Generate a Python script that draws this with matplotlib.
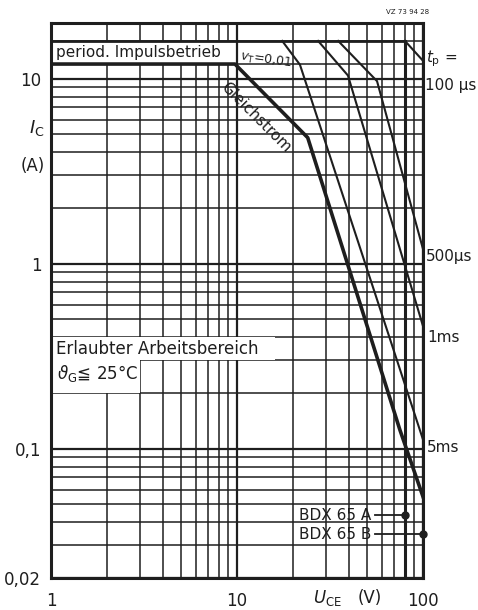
import matplotlib.pyplot as plt
from matplotlib.ticker import FixedLocator, NullFormatter
import numpy as np

# SOA curves (U_CE in V, I_C in A)
dc_u = [1, 9.75, 24, 75, 100]
dc_i = [12, 12, 4.8, 0.127, 0.055]
t5ms_u = [17.5, 21.8, 100]
t5ms_i = [16, 11.9, 0.112]
t1ms_u = [27.3, 39.5, 100]
t1ms_i = [16, 10.4, 0.46]
t500_u = [35, 56.6, 100]
t500_i = [16, 9.7, 1.2]
t100_u = [80, 100]
t100_i = [16, 12.5]
icm = 16          # pulse limit line
uceo_a = 80       # BDX 65 A
uceo_b = 100      # BDX 65 B

x_ticks = [1, 10, 100]
x_labels = ['1', '10', '100']
y_ticks = [0.02, 0.1, 1, 10]
y_labels = ['0,02', '0,1', '1', '10']
x_minor = [2, 3, 4, 5, 6, 7, 8, 9, 20, 30, 40, 50, 60, 70, 80, 90]
y_minor = [0.03, 0.04, 0.05, 0.06, 0.07, 0.08, 0.09,
           0.2, 0.3, 0.4, 0.5, 0.6, 0.7, 0.8, 0.9,
           2, 3, 4, 5, 6, 7, 8, 9, 12, 16]

ink = '#1e1e1e'
plt.rcParams['font.family'] = ['DejaVu Sans']

fig = plt.figure(figsize=(4.78, 6.10), dpi=100)
ax = fig.add_axes([51/478, 32/610, 372/478, 555/610])
ax.set_xscale('log')
ax.set_yscale('log')
ax.set_xlim(1, 100)
ax.set_ylim(0.02, 20)

ax.xaxis.set_minor_locator(FixedLocator(x_minor))
ax.yaxis.set_minor_locator(FixedLocator(y_minor))
ax.xaxis.set_minor_formatter(NullFormatter())
ax.yaxis.set_minor_formatter(NullFormatter())
ax.set_xticks(x_ticks, x_labels)
ax.set_yticks(y_ticks, y_labels)
ax.tick_params(which='both', length=0, labelsize=12, colors=ink)
ax.tick_params(axis='x', pad=10)
ax.tick_params(axis='y', pad=7)
ax.grid(which='major', color=ink, lw=1.6)
ax.grid(which='minor', color=ink, lw=1.1)
ax.set_axisbelow(True)
for s in ax.spines.values():
    s.set_linewidth(2.2)
    s.set_color(ink)

# white boxes behind the text blocks
ax.fill_between([1, 9.75], 12, icm, color='white', zorder=1.5, lw=0)
ax.fill_between([1, 16], 0.3, 0.4, color='white', zorder=1.5, lw=0)
ax.fill_between([1, 3], 0.2, 0.3, color='white', zorder=1.5, lw=0)

# limit lines
ax.plot([1, uceo_a], [icm, icm], color=ink, lw=2.0, zorder=3)
ax.plot([uceo_a, uceo_a], [0.02, icm], color=ink, lw=2.2, zorder=3)
ax.plot(dc_u, dc_i, color=ink, lw=2.6, zorder=4)
for u, i in [(t5ms_u, t5ms_i), (t1ms_u, t1ms_i), (t500_u, t500_i), (t100_u, t100_i)]:
    ax.plot(u, i, color=ink, lw=1.5, zorder=4)

# text in the plot
ax.text(1.06, 13.8, 'period. Impulsbetrieb', fontsize=11, color=ink,
        va='center', ha='left', zorder=5)
ax.text(14.3, 12.6, r'$v_\mathrm{T}$=0,01', fontsize=9, color=ink,
        va='center', ha='center', rotation=-8, zorder=5)
ax.text(12.6, 6.2, 'Gleichstrom', fontsize=11, color=ink, rotation=-45,
        va='center', ha='center', rotation_mode='anchor', zorder=5)
ax.text(1.06, 0.345, 'Erlaubter Arbeitsbereich', fontsize=12, color=ink,
        va='center', ha='left', zorder=5)
ax.text(1.08, 0.255, r'$\vartheta_\mathrm{G}$≦ 25°C', fontsize=12, color=ink,
        va='center', ha='left', zorder=5)

bdx_a_i = 0.0437
bdx_b_i = 0.0345
ax.text(53, bdx_a_i, 'BDX 65 A', fontsize=11, color=ink, va='center', ha='right')
ax.text(53, bdx_b_i, 'BDX 65 B', fontsize=11, color=ink, va='center', ha='right')
ax.plot([55, uceo_a], [bdx_a_i, bdx_a_i], color=ink, lw=1.3, zorder=4)
ax.plot([55, uceo_b], [bdx_b_i, bdx_b_i], color=ink, lw=1.3, zorder=4)
ax.plot([uceo_a, uceo_b], [bdx_a_i, bdx_b_i], 'o', color=ink, ms=5,
        zorder=5, clip_on=False)

# curve labels right of the frame
ax.text(104, 12.8, r'$t_\mathrm{p}$ =', fontsize=11, color=ink, va='center', ha='left')
ax.text(103, 9.2, '100 µs', fontsize=11, color=ink, va='center', ha='left')
ax.text(103, 1.1, '500µs', fontsize=11, color=ink, va='center', ha='left')
ax.text(105, 0.40, '1ms', fontsize=11, color=ink, va='center', ha='left')
ax.text(105, 0.101, '5ms', fontsize=11, color=ink, va='center', ha='left')
ax.text(83, 22.9, 'VZ 73 94 28', fontsize=5, color=ink, va='center', ha='center')

# axis titles
ax.text(30.8, 0.0155, r'$U_\mathrm{CE}$', fontsize=12, color=ink, va='center', ha='center')
ax.text(52, 0.0155, '(V)', fontsize=12, color=ink, va='center', ha='center')
ax.text(0.84, 5.4, r'$I_\mathrm{C}$', fontsize=13, color=ink, va='center', ha='center')
ax.text(0.80, 3.37, '(A)', fontsize=12, color=ink, va='center', ha='center')

fig.savefig('out.png', dpi=100, facecolor='white')
